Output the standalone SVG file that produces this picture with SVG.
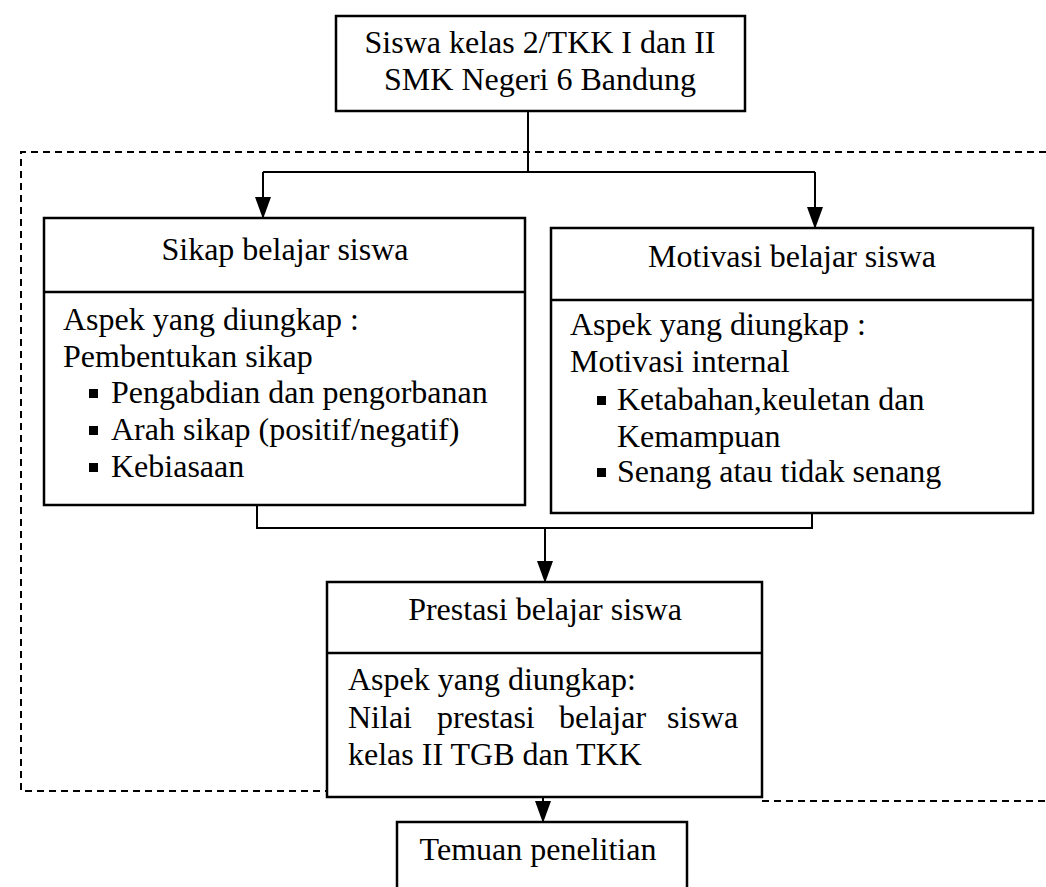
<svg xmlns="http://www.w3.org/2000/svg" width="1046" height="887" viewBox="0 0 1046 887">
<style>
.box{fill:#fff;stroke:#000;stroke-width:2.5}
.div{stroke:#000;stroke-width:2.5}
.t{font-family:"Liberation Serif","Times New Roman",serif;font-size:32px;fill:#000}
.c{text-anchor:middle}
.con{fill:none;stroke:#000;stroke-width:2}
.dash{fill:none;stroke:#000;stroke-width:2;stroke-dasharray:7 5}
.bul{fill:#000}
</style>
<defs>
<marker id="ar" markerUnits="userSpaceOnUse" markerWidth="22" markerHeight="16" refX="21" refY="8" orient="auto" viewBox="0 0 22 16">
<path d="M0,0 L22,8 L0,16 Z" fill="#000"/>
</marker>
</defs>
<rect width="1046" height="887" fill="#fff"/>
<g id="boundary">
<path class="dash" d="M1046,152 H21 V791 H327"/>
<path class="dash" d="M762,801 H1046"/>
</g>
<g id="connectors">
<path class="con" d="M528,111 V172"/>
<path class="con" d="M263,172 H815"/>
<path class="con" d="M263,172 V218" marker-end="url(#ar)"/>
<path class="con" d="M815,172 V228" marker-end="url(#ar)"/>
<path class="con" d="M257,505 V528 H812 V513"/>
<path class="con" d="M545,528 V582" marker-end="url(#ar)"/>
<path class="con" d="M543,797 V822" marker-end="url(#ar)"/>
</g>
<g id="siswa">
<rect class="box" x="336" y="16" width="409" height="95"/>
<text class="t c" x="540" y="53">Siswa kelas 2/TKK I dan II</text>
<text class="t c" x="540" y="90">SMK Negeri 6 Bandung</text>
</g>
<g id="sikap">
<rect class="box" x="44" y="218" width="481" height="287"/>
<line class="div" x1="44" y1="292" x2="525" y2="292"/>
<text class="t c" x="285" y="260">Sikap belajar siswa</text>
<text class="t" x="63" y="330">Aspek yang diungkap :</text>
<text class="t" x="63" y="367">Pembentukan sikap</text>
<rect class="bul" x="89" y="389" width="9" height="9"/>
<text class="t" x="111" y="403">Pengabdian dan pengorbanan</text>
<rect class="bul" x="89" y="426" width="9" height="9"/>
<text class="t" x="111" y="440">Arah sikap (positif/negatif)</text>
<rect class="bul" x="89" y="463" width="9" height="9"/>
<text class="t" x="111" y="477">Kebiasaan</text>
</g>
<g id="motivasi">
<rect class="box" x="551" y="228" width="482" height="285"/>
<line class="div" x1="551" y1="300" x2="1033" y2="300"/>
<text class="t c" x="792" y="267">Motivasi belajar siswa</text>
<text class="t" x="570" y="335">Aspek yang diungkap :</text>
<text class="t" x="570" y="372">Motivasi internal</text>
<rect class="bul" x="597" y="396" width="9" height="9"/>
<text class="t" x="617" y="410">Ketabahan,keuletan dan</text>
<text class="t" x="617" y="447">Kemampuan</text>
<rect class="bul" x="597" y="468" width="9" height="9"/>
<text class="t" x="617" y="482">Senang atau tidak senang</text>
</g>
<g id="prestasi">
<rect class="box" x="327" y="582" width="435" height="215"/>
<line class="div" x1="327" y1="653" x2="762" y2="653"/>
<text class="t c" x="545" y="620">Prestasi belajar siswa</text>
<text class="t" x="348" y="690">Aspek yang diungkap:</text>
<text class="t" y="728"><tspan x="348">Nilai</tspan><tspan x="437">prestasi</tspan><tspan x="559">belajar</tspan><tspan x="667">siswa</tspan></text>
<text class="t" x="348" y="765">kelas II TGB dan TKK</text>
</g>
<g id="temuan">
<rect class="box" x="397" y="822" width="290" height="90"/>
<text class="t c" x="538" y="860">Temuan penelitian</text>
</g>
</svg>
